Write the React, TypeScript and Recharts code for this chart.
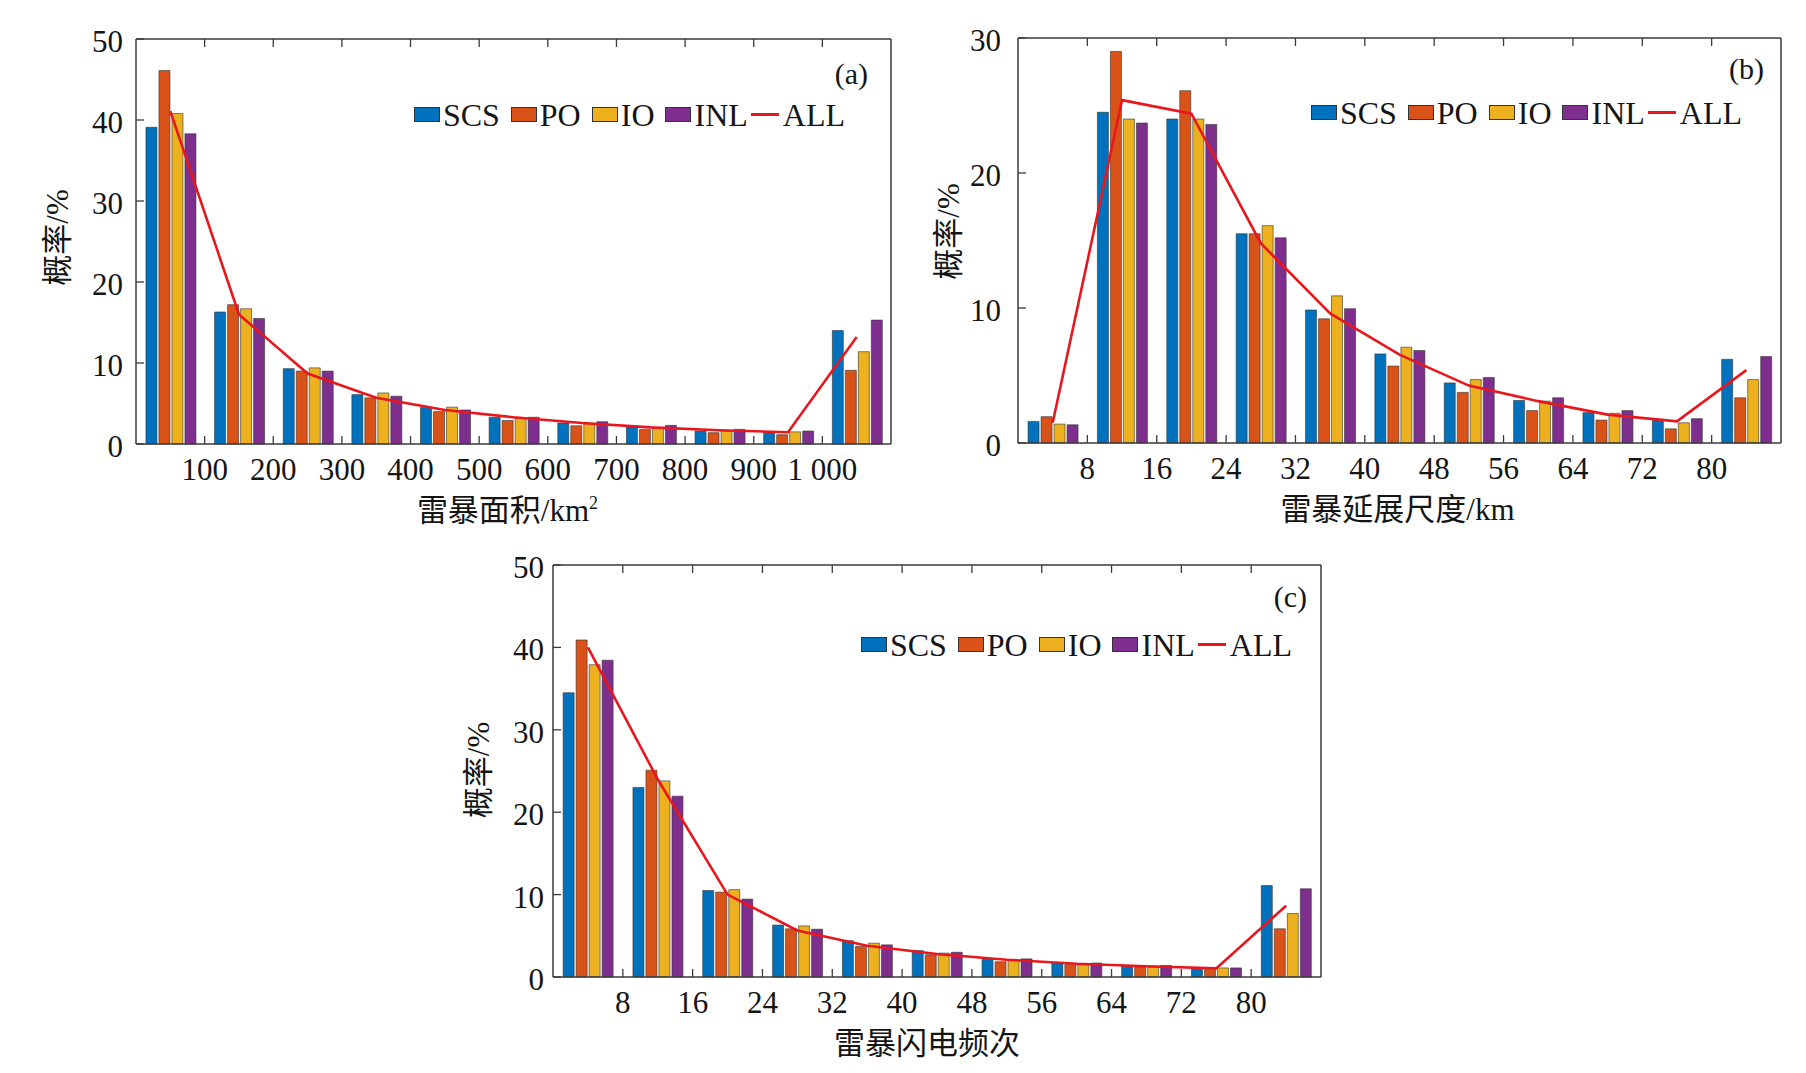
import React from "react";
import { ComposedChart, Bar, Line, XAxis, YAxis } from "recharts";

const SERIF = "'Liberation Serif', 'Times New Roman', 'Noto Sans CJK SC', serif";
const AXIS = "#3a3a3a";
const INK = "#151515";

const seriesNames = ["SCS", "PO", "IO", "INL", "ALL"];
const seriesColors = ["#0072BD", "#D95319", "#EDB120", "#7E2F8E", "#E8171D"];

// (a) thunderstorm area bins
const areaBins = ["0-100", "100-200", "200-300", "300-400", "400-500", "500-600", "600-700", "700-800", "800-900", "900-1000", ">1000"];
const areaTicks = ["100", "200", "300", "400", "500", "600", "700", "800", "900", "1 000"];
const areaSCS = [39.1, 16.3, 9.3, 6.1, 4.5, 3.3, 2.6, 2.1, 1.6, 1.45, 14.0];
const areaPO = [46.1, 17.2, 9.0, 5.7, 4.0, 2.9, 2.25, 1.8, 1.4, 1.15, 9.1];
const areaIO = [40.8, 16.7, 9.4, 6.3, 4.55, 3.2, 2.5, 2.0, 1.6, 1.5, 11.4];
const areaINL = [38.3, 15.5, 9.0, 5.9, 4.2, 3.3, 2.75, 2.3, 1.8, 1.6, 15.3];
const areaALL = [41.1, 16.0, 8.7, 5.7, 4.2, 3.3, 2.6, 2.05, 1.7, 1.45, 13.2];

// (b) extension scale bins
const extBins = ["0-8", "8-16", "16-24", "24-32", "32-40", "40-48", "48-56", "56-64", "64-72", "72-80", ">80"];
const extTicks = ["8", "16", "24", "32", "40", "48", "56", "64", "72", "80"];
const extSCS = [1.6, 24.5, 24.0, 15.5, 9.85, 6.6, 4.45, 3.15, 2.25, 1.75, 6.2];
const extPO = [1.95, 29.0, 26.1, 15.5, 9.2, 5.7, 3.75, 2.4, 1.7, 1.05, 3.35];
const extIO = [1.4, 24.0, 24.0, 16.1, 10.9, 7.1, 4.7, 3.1, 2.2, 1.5, 4.7];
const extINL = [1.35, 23.7, 23.6, 15.2, 9.95, 6.85, 4.85, 3.35, 2.4, 1.8, 6.4];
const extALL = [1.5, 25.4, 24.4, 14.8, 9.6, 6.55, 4.25, 3.1, 2.1, 1.6, 5.4];

// (c) flash count bins
const flashBins = ["0-8", "8-16", "16-24", "24-32", "32-40", "40-48", "48-56", "56-64", "64-72", "72-80", ">80"];
const flashTicks = ["8", "16", "24", "32", "40", "48", "56", "64", "72", "80"];
const flashSCS = [34.5, 23.0, 10.5, 6.3, 4.4, 3.2, 2.15, 1.7, 1.3, 1.1, 11.1];
const flashPO = [40.9, 25.1, 10.3, 5.85, 3.7, 2.7, 1.85, 1.5, 1.2, 0.9, 5.85];
const flashIO = [37.9, 23.8, 10.6, 6.2, 4.1, 2.9, 2.05, 1.5, 1.2, 1.1, 7.7];
const flashINL = [38.45, 21.95, 9.45, 5.8, 3.9, 3.0, 2.2, 1.7, 1.4, 1.1, 10.7];
const flashALL = [40.0, 24.0, 10.0, 5.65, 3.8, 2.8, 2.1, 1.6, 1.3, 1.05, 8.65];

const toRows = (bins: string[], scs: number[], po: number[], io: number[], inl: number[], all: number[]) =>
  bins.map((bin, i) => ({ bin, scs: scs[i], po: po[i], io: io[i], inl: inl[i], all: all[i] }));

const keys = ["scs", "po", "io", "inl"];

// chart frame around each plot box
const PAD_L = 110;
const PAD_T = 30;
const PAD_R = 12;
const PAD_B = 90;

type PanelProps = {
  rows: any[];
  ticks: string[];
  yMax: number;
  yTicks: number[];
  box: { l: number; t: number; r: number; b: number };
  xTitle: React.ReactNode;
  xTitleDx: number;
  yTitleOff: number;
  yTitleDy: number;
  yLabelGap: number;
  tag: string;
  tagGap: number;
  tagBase: number;
  legRight: number;
  legTop: number;
};

function LegendBox({ right, top }: { right: number; top: number }) {
  return (
    <div
      style={{
        position: "absolute",
        right,
        top,
        display: "flex",
        alignItems: "center",
        fontFamily: SERIF,
        fontSize: 32,
        lineHeight: "32px",
        color: INK,
        whiteSpace: "nowrap",
      }}
    >
      {seriesNames.slice(0, 4).map((name, i) => (
        <span key={name} style={{ display: "flex", alignItems: "center", marginRight: 11 }}>
          <span
            style={{
              display: "inline-block",
              width: 26,
              height: 15,
              background: seriesColors[i],
              border: "1px solid #333",
              boxSizing: "border-box",
              marginRight: 3,
            }}
          />
          {name}
        </span>
      ))}
      <span style={{ display: "flex", alignItems: "center" }}>
        <span
          style={{
            display: "inline-block",
            width: 28,
            height: 3,
            background: seriesColors[4],
            marginLeft: -8,
            marginRight: 4,
          }}
        />
        {seriesNames[4]}
      </span>
    </div>
  );
}

function Panel(p: PanelProps) {
  const pw = p.box.r - p.box.l;
  const ph = p.box.b - p.box.t;
  const width = PAD_L + pw + PAD_R;
  const height = PAD_T + ph + PAD_B;
  const half = pw / p.rows.length / 2;

  const bottomTick = (props: any) => {
    const { x, y, payload } = props;
    const i = payload.index;
    if (i >= p.ticks.length) return <g />;
    const bx = x + half;
    return (
      <g>
        <line x1={bx} x2={bx} y1={y} y2={y - 8} stroke={AXIS} strokeWidth={1.3} />
        <text x={bx} y={y + 36} textAnchor="middle" fontFamily={SERIF} fontSize={31} fill={INK}>
          {p.ticks[i]}
        </text>
      </g>
    );
  };

  const topTick = (props: any) => {
    const { x, y, payload } = props;
    if (payload.index >= p.ticks.length) return <g />;
    const bx = x + half;
    return <line x1={bx} x2={bx} y1={y} y2={y + 8} stroke={AXIS} strokeWidth={1.3} />;
  };

  const leftTick = (props: any) => {
    const { x, y, payload } = props;
    return (
      <g>
        <line x1={x} x2={x + 8} y1={y} y2={y} stroke={AXIS} strokeWidth={1.3} />
        <text x={x - p.yLabelGap} y={y + 13} textAnchor="end" fontFamily={SERIF} fontSize={31} fill={INK}>
          {payload.value}
        </text>
      </g>
    );
  };

  const rightTick = (props: any) => {
    const { x, y } = props;
    return <line x1={x} x2={x - 8} y1={y} y2={y} stroke={AXIS} strokeWidth={1.3} />;
  };

  const yTitle = (props: any) => {
    const vb = props.viewBox;
    const cx = vb.x + vb.width - p.yTitleOff;
    const cy = vb.y + vb.height / 2 + p.yTitleDy;
    return (
      <text
        x={cx}
        y={cy}
        transform={`rotate(-90 ${cx} ${cy})`}
        textAnchor="middle"
        dominantBaseline="central"
        fontFamily={SERIF}
        fontSize={31}
        fill={INK}
      >
        概率/%
      </text>
    );
  };

  const xTitle = (props: any) => {
    const vb = props.viewBox;
    return (
      <text
        x={vb.x + vb.width / 2 + p.xTitleDx}
        y={vb.y + 77}
        textAnchor="middle"
        fontFamily={SERIF}
        fontSize={31}
        fill={INK}
      >
        {p.xTitle}
      </text>
    );
  };

  return (
    <div style={{ position: "absolute", left: p.box.l - 8 - PAD_L, top: p.box.t - 8 - PAD_T, width, height }}>
      <ComposedChart
        width={width}
        height={height}
        data={p.rows}
        margin={{ top: PAD_T - 2, right: 10, bottom: 5, left: 10 }}
        barCategoryGap="14.5%"
        barGap={2}
      >
        <XAxis
          xAxisId="b"
          dataKey="bin"
          type="category"
          height={85}
          interval={0}
          tickSize={0}
          tickMargin={0}
          tickLine={false}
          axisLine={{ stroke: AXIS, strokeWidth: 1.5 }}
          tick={bottomTick}
          label={xTitle}
        />
        <XAxis
          xAxisId="t"
          dataKey="bin"
          type="category"
          orientation="top"
          height={2}
          interval={0}
          tickSize={0}
          tickMargin={0}
          tickLine={false}
          axisLine={{ stroke: AXIS, strokeWidth: 1.5 }}
          tick={topTick}
        />
        <YAxis
          yAxisId="l"
          type="number"
          width={100}
          domain={[0, p.yMax]}
          ticks={p.yTicks}
          interval={0}
          tickSize={0}
          tickMargin={0}
          tickLine={false}
          axisLine={{ stroke: AXIS, strokeWidth: 1.5 }}
          tick={leftTick}
          label={yTitle}
        />
        <YAxis
          yAxisId="r"
          type="number"
          orientation="right"
          width={2}
          domain={[0, p.yMax]}
          ticks={p.yTicks}
          interval={0}
          tickSize={0}
          tickMargin={0}
          tickLine={false}
          axisLine={{ stroke: AXIS, strokeWidth: 1.5 }}
          tick={rightTick}
        />
        {keys.map((k, i) => (
          <Bar
            key={k}
            xAxisId="b"
            yAxisId="l"
            dataKey={k}
            name={seriesNames[i]}
            fill={seriesColors[i]}
            stroke="#333"
            strokeWidth={0.6}
            isAnimationActive={false}
          />
        ))}
        <Line
          xAxisId="b"
          yAxisId="l"
          type="linear"
          dataKey="all"
          name={seriesNames[4]}
          stroke={seriesColors[4]}
          strokeWidth={2.6}
          dot={false}
          activeDot={false}
          isAnimationActive={false}
        />
      </ComposedChart>
      <LegendBox right={PAD_R + p.legRight} top={PAD_T + p.legTop - 8.5} />
      <div
        style={{
          position: "absolute",
          right: PAD_R + p.tagGap,
          top: PAD_T + p.tagBase - 25,
          fontFamily: SERIF,
          fontSize: 30,
          lineHeight: "30px",
          color: INK,
        }}
      >
        {p.tag}
      </div>
    </div>
  );
}

export default function App() {
  return (
    <div style={{ position: "relative", width: 1790, height: 1057, overflow: "hidden", background: "#fff" }}>
      <Panel
        rows={toRows(areaBins, areaSCS, areaPO, areaIO, areaINL, areaALL)}
        ticks={areaTicks}
        yMax={50}
        yTicks={[0, 10, 20, 30, 40, 50]}
        box={{ l: 136, t: 39, r: 891, b: 444 }}
        xTitle={
          <>
            雷暴面积/km
            <tspan dy={-12} fontSize={18}>
              2
            </tspan>
          </>
        }
        xTitleDx={-6}
        yTitleOff={79}
        yTitleDy={-4}
        yLabelGap={13}
        tag="(a)"
        tagGap={23}
        tagBase={45}
        legRight={46}
        legTop={68}
      />
      <Panel
        rows={toRows(extBins, extSCS, extPO, extIO, extINL, extALL)}
        ticks={extTicks}
        yMax={30}
        yTicks={[0, 10, 20, 30]}
        box={{ l: 1018, t: 38, r: 1781, b: 443 }}
        xTitle="雷暴延展尺度/km"
        xTitleDx={-2}
        yTitleOff={70}
        yTitleDy={-9}
        yLabelGap={17}
        tag="(b)"
        tagGap={17}
        tagBase={41}
        legRight={39}
        legTop={67}
      />
      <Panel
        rows={toRows(flashBins, flashSCS, flashPO, flashIO, flashINL, flashALL)}
        ticks={flashTicks}
        yMax={50}
        yTicks={[0, 10, 20, 30, 40, 50]}
        box={{ l: 553, t: 565, r: 1321, b: 977 }}
        xTitle="雷暴闪电频次"
        xTitleDx={-10}
        yTitleOff={75}
        yTitleDy={-1}
        yLabelGap={9}
        tag="(c)"
        tagGap={14}
        tagBase={42}
        legRight={29}
        legTop={72}
      />
    </div>
  );
}
